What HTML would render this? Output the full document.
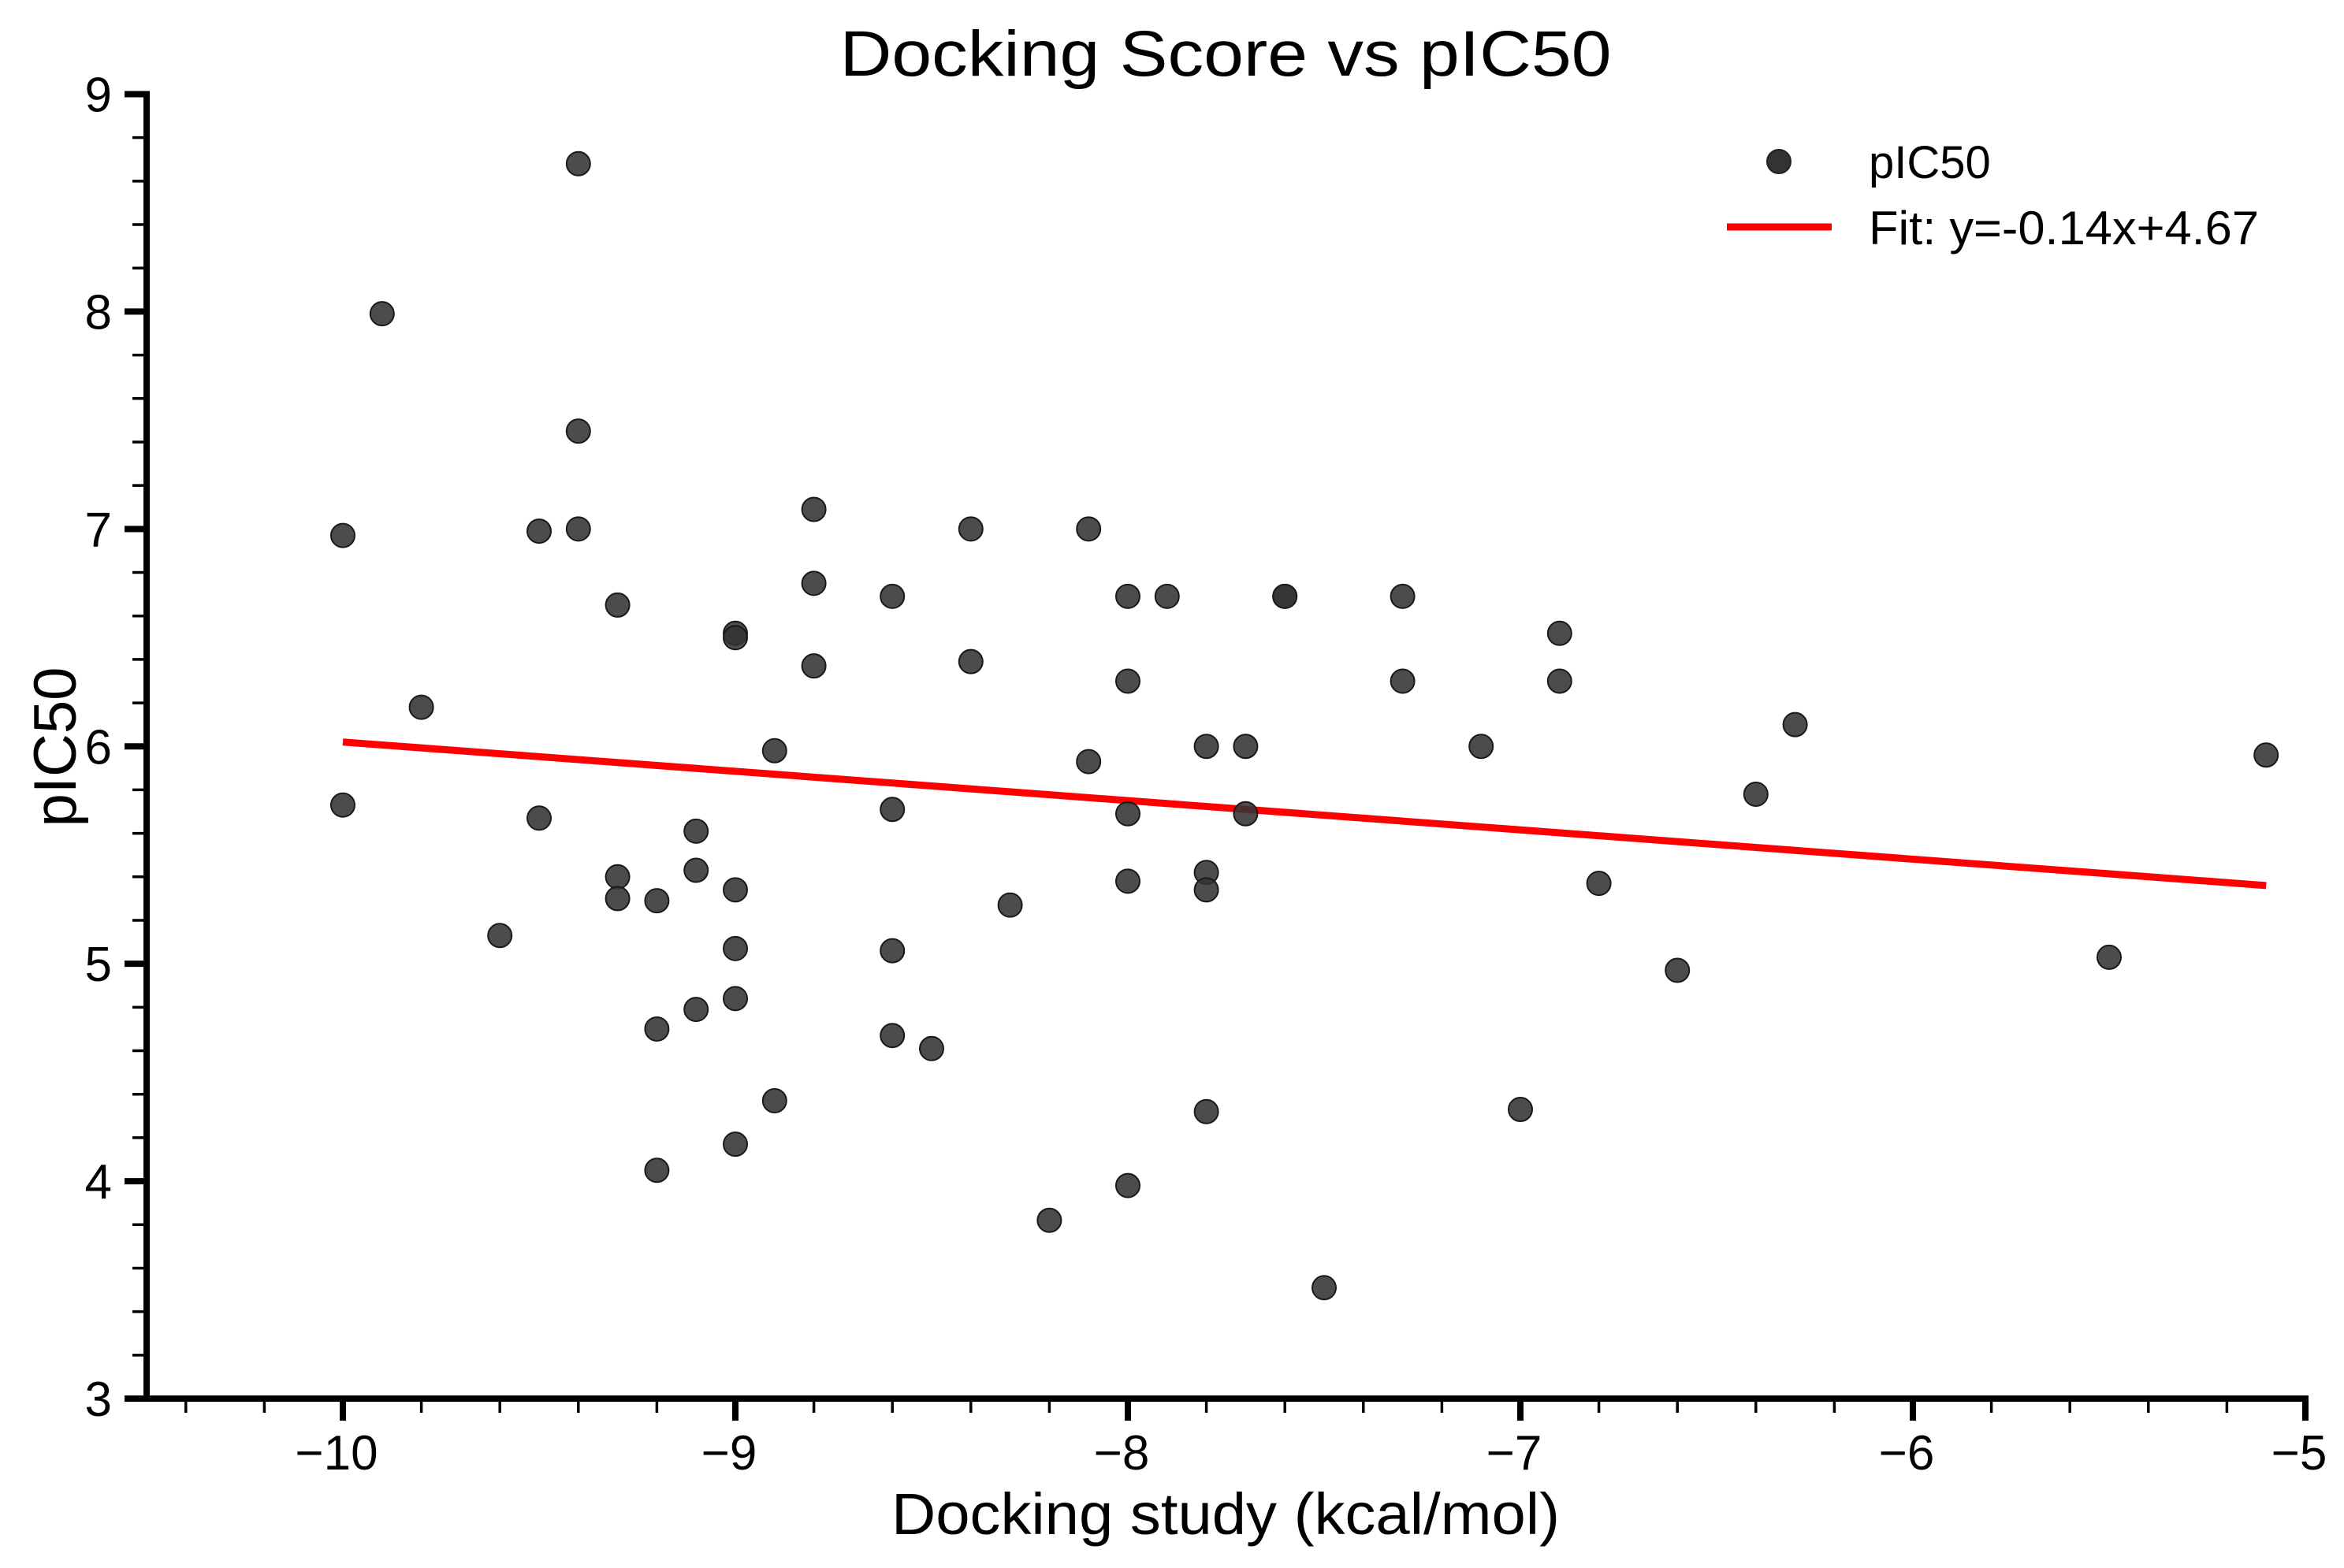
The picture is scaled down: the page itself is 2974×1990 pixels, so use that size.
<!DOCTYPE html>
<html><head><meta charset="utf-8"><style>
html,body{margin:0;padding:0;background:#fff}
svg{display:block;font-family:"Liberation Sans",sans-serif}
</style></head><body>
<svg id="chart" width="2974" height="1990" viewBox="0 0 2974 1990" xmlns="http://www.w3.org/2000/svg">
<text x="1555" y="96" font-size="82" text-anchor="middle" textLength="979" lengthAdjust="spacingAndGlyphs">Docking Score vs pIC50</text>
<text x="1555" y="1947" font-size="74" text-anchor="middle" textLength="848" lengthAdjust="spacingAndGlyphs">Docking study (kcal/mol)</text>
<text x="0" y="0" font-size="76" text-anchor="middle" textLength="203" lengthAdjust="spacingAndGlyphs" transform="translate(96,948) rotate(-90)">pIC50</text>
<g id="axes"></g>
<g id="fit"></g>
<g id="points"></g>
<g id="legend">
  <circle cx="2257" cy="205" r="15" fill="#333" stroke="#222" stroke-width="2"/>
  <text x="2371" y="226" font-size="58">pIC50</text>
  <line x1="2191" y1="288" x2="2324" y2="288" stroke="#ff0000" stroke-width="9"/>
  <text x="2371" y="310" font-size="60" textLength="495" lengthAdjust="spacingAndGlyphs">Fit: y=-0.14x+4.67</text>
</g>
</svg>
<script>
const xVals = [-10,-10,-9.9,-9.8,-9.6,-9.5,-9.5,-9.4,-9.4,-9.4,-9.3,-9.3,-9.3,-9.2,-9.2,-9.2,-9.1,-9.1,-9.1,-9.0,-9.0,-9.0,-9.0,-9.0,-9.0,-8.9,-8.9,-8.8,-8.8,-8.8,-8.6,-8.6,-8.6,-8.6,-8.5,-8.4,-8.4,-8.3,-8.2,-8.1,-8.1,-8.0,-8.0,-8.0,-8.0,-8.0,-7.9,-7.8,-7.8,-7.8,-7.8,-7.7,-7.7,-7.6,-7.6,-7.5,-7.3,-7.3,-7.1,-7.0,-6.9,-6.9,-6.8,-6.6,-6.4,-6.3,-5.5,-5.1];
const yVals = [6.97,5.73,7.99,6.18,5.13,6.99,5.67,8.68,7.45,7.0,6.65,5.40,5.30,5.29,4.70,4.05,5.61,5.43,4.79,6.52,6.50,5.34,5.07,4.84,4.17,5.98,4.37,7.09,6.75,6.37,6.69,5.71,5.06,4.67,4.61,7.0,6.39,5.27,3.82,7.0,5.93,6.69,6.30,5.69,5.38,3.98,6.69,6.0,5.42,5.34,4.32,6.0,5.69,6.69,6.69,3.51,6.69,6.30,6.0,4.33,6.52,6.30,5.37,4.97,5.78,6.10,5.03,5.96];
const fitSlope = -0.1347;
const fitIntercept = 4.673;
const fitRange = [-10, -5.1];
const xTicks = [-10,-9,-8,-7,-6,-5];
const xTickLabels = ["\u221210","\u22129","\u22128","\u22127","\u22126","\u22125"];
const yTicks = [3,4,5,6,7,8,9];
const yTickLabels = ["3","4","5","6","7","8","9"];

const NS = "http://www.w3.org/2000/svg";
const X0=186, X1=2925, Y0=1775, Y1=119.5;
const xMin=-10.5, xMax=-5, yMin=3, yMax=9;
const sx = v => X0 + (v - xMin) / (xMax - xMin) * (X1 - X0);
const sy = v => Y0 - (v - yMin) / (yMax - yMin) * (Y0 - Y1);
function mk(tag, attrs, parent){
  const e = document.createElementNS(NS, tag);
  for (const k in attrs) e.setAttribute(k, attrs[k]);
  parent.appendChild(e); return e;
}
const axes = document.getElementById('axes');
let el = mk('line',{x1:X0,y1:Y1-4,x2:X0,y2:Y0+4,stroke:'#000','stroke-width':8},axes);


el = mk('line',{x1:X0-4,y1:Y0,x2:X1+4,y2:Y0,stroke:'#000','stroke-width':8},axes);


for (let i=0;i<=27;i++){
  const v = -10.4 + i*0.2;
  if (v > -5.01) break;
  if (Math.abs(v - Math.round(v)) < 0.01) continue;
  el = mk('line',{x1:sx(v),y1:Y0,x2:sx(v),y2:Y0+18,stroke:'#000','stroke-width':3.5},axes);
  
  
}
for (let i=1;i<30;i++){
  const v = 3 + i*0.2;
  if (i%5===0) continue;
  el = mk('line',{x1:X0-18,y1:sy(v),x2:X0,y2:sy(v),stroke:'#000','stroke-width':3.5},axes);
  
  
}
xTicks.forEach((v,i)=>{
  let t = mk('line',{x1:sx(v),y1:Y0,x2:sx(v),y2:Y0+28,stroke:'#000','stroke-width':8},axes);
  
  
  let l = mk('text',{x:sx(v)-8,y:Y0+90,'font-size':62,'text-anchor':'middle'},axes);
  l.textContent = xTickLabels[i];
  
  
});
yTicks.forEach((v,i)=>{
  let t = mk('line',{x1:X0-28,y1:sy(v),x2:X0,y2:sy(v),stroke:'#000','stroke-width':8},axes);
  
  
  let l = mk('text',{x:X0-44,y:sy(v)+22,'font-size':62,'text-anchor':'end'},axes);
  l.textContent = yTickLabels[i];
  
  
});
const fit = document.getElementById('fit');
el = mk('line',{x1:sx(fitRange[0]),y1:sy(fitSlope*fitRange[0]+fitIntercept),x2:sx(fitRange[1]),y2:sy(fitSlope*fitRange[1]+fitIntercept),stroke:'#ff0000','stroke-width':9},fit);


const pts = document.getElementById('points');
xVals.forEach((x,i)=>{
  const c = mk('circle',{cx:sx(x),cy:sy(yVals[i]),r:15,fill:'#333','fill-opacity':0.88,stroke:'#1a1a1a','stroke-width':2},pts);
  
  
});
</script>
</body></html>
